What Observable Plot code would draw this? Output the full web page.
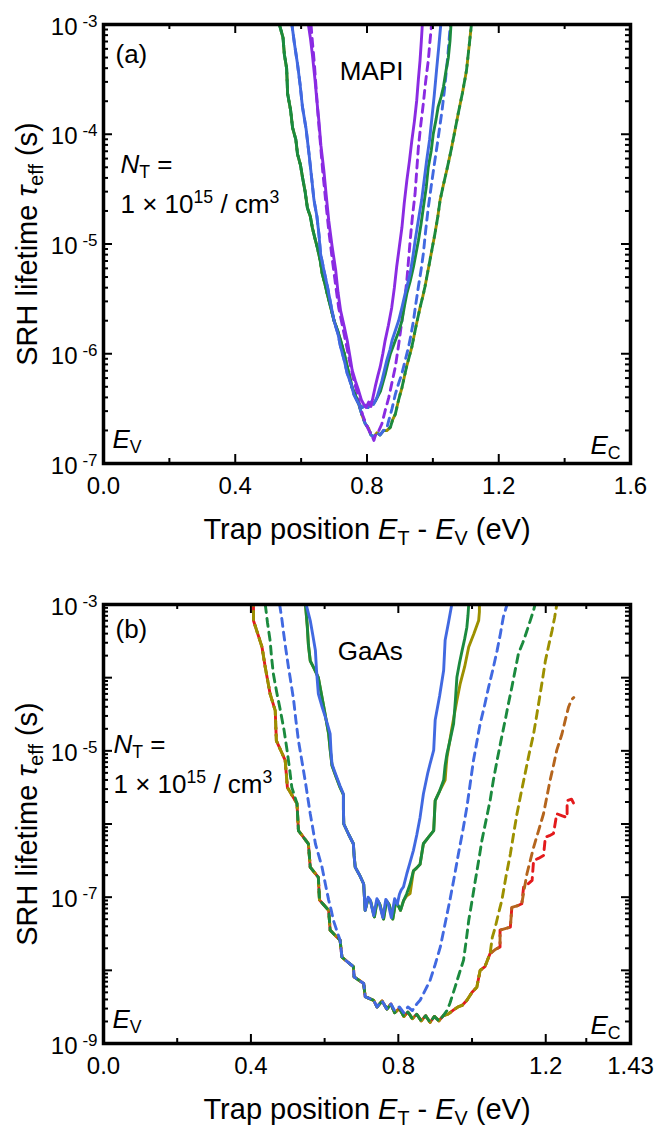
<!DOCTYPE html>
<html><head><meta charset="utf-8">
<script src="https://cdn.jsdelivr.net/npm/d3@7"></script>
<script src="https://cdn.jsdelivr.net/npm/@observablehq/plot@0.6"></script>
<style>
body{margin:0;background:#fff;}
#chart{width:655px;}
svg{display:block;}
</style></head><body><div id="chart"></div>
<script>
// ---------- colours ----------
const PURPLE = "#8a2be2", BLUE = "#4169e1", GREEN = "#1b8a3e", OLIVE = "#9c9000", BROWN = "#b5651d", RED = "#e31a1c";

// ---------- ticks ----------
const mapiXMajor = [0, 0.4, 0.8, 1.2, 1.6];
const mapiXMinor = [0.2, 0.6, 1.0, 1.4];
const mapiXLabels = ["0.0", "0.4", "0.8", "1.2", "1.6"];
const mapiDecades = [-7, -6, -5, -4, -3];
const mapiLabelDecades = [-7, -6, -5, -4, -3];
const gaasXMajor = [0, 0.4, 0.8, 1.2, 1.43];
const gaasXMinor = [0.2, 0.6, 1.0, 1.31];
const gaasXLabels = ["0.0", "0.4", "0.8", "1.2", "1.43"];
const gaasDecades = [-9, -8, -7, -6, -5, -4, -3];
const gaasLabelDecades = [-9, -7, -5, -3];

// ---------- MAPI data: [E_T - E_V (eV), log10 tau (s)] ----------
const mapiLeftShared = [[0.534,-3.00],[0.545,-3.12],[0.549,-3.27],[0.556,-3.40],[0.559,-3.63],[0.568,-3.78],[0.574,-3.94],[0.584,-4.05],[0.589,-4.18],[0.598,-4.28],[0.604,-4.39],[0.612,-4.52],[0.619,-4.67],[0.628,-4.75],[0.634,-4.85],[0.642,-4.95],[0.649,-5.03],[0.658,-5.15],[0.664,-5.27],[0.672,-5.36],[0.679,-5.45],[0.690,-5.58],[0.700,-5.70],[0.712,-5.80],[0.720,-5.88],[0.731,-6.00],[0.740,-6.12],[0.748,-6.22],[0.755,-6.31],[0.765,-6.38],[0.775,-6.46]];
const mapiDashedBottom = [[0.785,-6.56],[0.795,-6.64],[0.805,-6.68],[0.812,-6.74],[0.820,-6.76],[0.830,-6.72],[0.840,-6.74],[0.850,-6.70]];
const mapiGreenDashedRight = [[0.860,-6.70],[0.871,-6.67],[0.878,-6.60],[0.886,-6.55],[0.896,-6.42],[0.906,-6.31],[0.920,-6.12],[0.936,-5.94],[0.948,-5.76],[0.961,-5.58],[0.970,-5.47],[0.976,-5.39],[0.991,-5.15],[1.006,-4.91],[1.015,-4.75],[1.022,-4.60],[1.032,-4.46],[1.042,-4.33],[1.050,-4.22],[1.057,-4.12],[1.068,-3.95],[1.077,-3.81],[1.090,-3.62],[1.102,-3.42],[1.110,-3.20],[1.117,-3.00]];
const mapiGreenSolidRight = [[0.785,-6.49],[0.795,-6.47],[0.803,-6.49],[0.810,-6.45],[0.818,-6.46],[0.826,-6.43],[0.841,-6.34],[0.856,-6.18],[0.864,-6.08],[0.871,-6.00],[0.886,-5.88],[0.896,-5.80],[0.906,-5.70],[0.914,-5.56],[0.921,-5.45],[0.931,-5.34],[0.941,-5.21],[0.956,-4.97],[0.964,-4.82],[0.971,-4.67],[0.980,-4.48],[0.986,-4.30],[0.995,-4.15],[1.001,-4.00],[1.010,-3.86],[1.016,-3.75],[1.025,-3.66],[1.032,-3.57],[1.040,-3.42],[1.047,-3.30],[1.052,-3.15],[1.055,-3.00]];
const mapiBlueLeft = [[0.572,-3.00],[0.580,-3.18],[0.589,-3.36],[0.597,-3.55],[0.604,-3.75],[0.615,-3.95],[0.624,-4.18],[0.632,-4.40],[0.639,-4.60],[0.648,-4.75],[0.654,-4.91],[0.659,-5.09],[0.670,-5.25],[0.680,-5.39],[0.690,-5.55],[0.700,-5.70],[0.712,-5.82],[0.720,-5.94],[0.731,-6.06],[0.740,-6.18],[0.752,-6.28],[0.760,-6.37],[0.775,-6.46]];
const mapiBlueSolidRight = [[0.785,-6.49],[0.795,-6.47],[0.803,-6.49],[0.812,-6.44],[0.820,-6.46],[0.830,-6.40],[0.845,-6.25],[0.860,-6.06],[0.870,-5.96],[0.876,-5.88],[0.896,-5.70],[0.906,-5.58],[0.916,-5.45],[0.931,-5.27],[0.940,-5.10],[0.946,-4.97],[0.956,-4.78],[0.966,-4.60],[0.981,-4.24],[0.990,-4.05],[0.996,-3.88],[1.004,-3.65],[1.011,-3.42],[1.018,-3.20],[1.024,-3.00]];
const mapiBlueDashedRight = [[0.860,-6.68],[0.866,-6.61],[0.876,-6.50],[0.886,-6.37],[0.896,-6.27],[0.906,-6.18],[0.916,-6.06],[0.926,-5.94],[0.934,-5.82],[0.941,-5.70],[0.948,-5.55],[0.956,-5.39],[0.964,-5.24],[0.971,-5.09],[0.978,-4.88],[0.986,-4.67],[0.996,-4.45],[1.006,-4.24],[1.014,-4.08],[1.020,-3.95],[1.028,-3.78],[1.035,-3.60],[1.045,-3.30],[1.053,-3.00]];
const mapiPurpleSolid = [[0.622,-3.00],[0.628,-3.12],[0.634,-3.27],[0.642,-3.50],[0.648,-3.70],[0.654,-3.88],[0.660,-4.10],[0.669,-4.33],[0.676,-4.55],[0.684,-4.79],[0.694,-5.02],[0.705,-5.24],[0.712,-5.44],[0.720,-5.61],[0.730,-5.74],[0.740,-5.88],[0.748,-6.02],[0.755,-6.15],[0.765,-6.25],[0.775,-6.34],[0.783,-6.42],[0.790,-6.46],[0.797,-6.49],[0.805,-6.44],[0.812,-6.48],[0.818,-6.40],[0.825,-6.30],[0.833,-6.20],[0.840,-6.12],[0.848,-6.00],[0.855,-5.88],[0.865,-5.74],[0.875,-5.58],[0.883,-5.40],[0.890,-5.21],[0.898,-5.03],[0.906,-4.85],[0.913,-4.63],[0.921,-4.42],[0.929,-4.24],[0.936,-4.06],[0.944,-3.88],[0.951,-3.69],[0.956,-3.50],[0.961,-3.33],[0.965,-3.15],[0.968,-3.00]];
const mapiPurpleDashed = [[0.630,-3.00],[0.634,-3.15],[0.640,-3.35],[0.646,-3.60],[0.652,-3.85],[0.659,-4.10],[0.666,-4.35],[0.675,-4.62],[0.684,-4.88],[0.695,-5.15],[0.705,-5.38],[0.714,-5.58],[0.725,-5.74],[0.736,-5.90],[0.748,-6.08],[0.758,-6.22],[0.767,-6.32],[0.777,-6.45],[0.787,-6.56],[0.797,-6.64],[0.806,-6.70],[0.814,-6.74],[0.821,-6.79],[0.828,-6.72],[0.836,-6.70],[0.845,-6.64],[0.855,-6.52],[0.866,-6.40],[0.876,-6.26],[0.886,-6.12],[0.896,-5.92],[0.906,-5.70],[0.914,-5.52],[0.921,-5.33],[0.926,-5.15],[0.931,-4.97],[0.938,-4.75],[0.946,-4.54],[0.951,-4.33],[0.956,-4.12],[0.963,-3.92],[0.971,-3.72],[0.978,-3.52],[0.986,-3.33],[0.991,-3.16],[0.996,-3.00]];

// ---------- GaAs data ----------
const gaasRedLeftTop = [[0.407,-3.00],[0.407,-3.22],[0.430,-3.58],[0.439,-3.86],[0.452,-4.22],[0.466,-4.45],[0.469,-4.86],[0.493,-5.13],[0.499,-5.50],[0.525,-5.72]];
const gaasGreenDashLeftTop = [[0.439,-3.00],[0.445,-3.25],[0.452,-3.49],[0.456,-3.72],[0.461,-3.95],[0.470,-4.20],[0.480,-4.45],[0.490,-4.72],[0.498,-4.99],[0.505,-5.25],[0.511,-5.50],[0.525,-5.72]];
const gaasDashLower = [[0.529,-6.09],[0.556,-6.27],[0.561,-6.59],[0.583,-6.73],[0.586,-7.04],[0.611,-7.18],[0.615,-7.45],[0.642,-7.59],[0.647,-7.82],[0.678,-7.95],[0.680,-8.09],[0.706,-8.18],[0.710,-8.36],[0.733,-8.41],[0.742,-8.50]];
const gaasDashBottom = [[0.756,-8.42],[0.769,-8.53],[0.780,-8.46],[0.790,-8.58],[0.803,-8.52],[0.815,-8.63],[0.826,-8.57],[0.838,-8.66],[0.850,-8.60],[0.862,-8.69],[0.874,-8.62],[0.886,-8.71],[0.898,-8.63],[0.910,-8.69],[0.922,-8.62]];
const gaasWarmRight = [[0.935,-8.60],[0.950,-8.54],[0.962,-8.50],[0.973,-8.48],[0.986,-8.41],[1.000,-8.30],[1.013,-8.23],[1.022,-8.00],[1.035,-7.95],[1.049,-7.77]];
const gaasRedTail = [[1.062,-7.72],[1.076,-7.68],[1.076,-7.45],[1.090,-7.43],[1.104,-7.41],[1.108,-7.14],[1.122,-7.12],[1.135,-7.09],[1.140,-6.86],[1.152,-6.82],[1.163,-6.77],[1.167,-6.50],[1.180,-6.47],[1.194,-6.43],[1.199,-6.18],[1.210,-6.16],[1.221,-6.13],[1.230,-5.86],[1.245,-5.89],[1.258,-5.91],[1.258,-5.68],[1.270,-5.66],[1.276,-5.72]];
const gaasBrownTail = [[1.062,-7.72],[1.076,-7.68],[1.076,-7.45],[1.090,-7.43],[1.104,-7.41],[1.108,-7.14],[1.122,-7.12],[1.135,-7.09],[1.142,-6.88],[1.149,-6.68],[1.158,-6.50],[1.167,-6.32],[1.180,-6.10],[1.194,-5.86],[1.203,-5.63],[1.212,-5.40],[1.221,-5.20],[1.230,-4.99],[1.244,-4.77],[1.253,-4.58],[1.262,-4.40],[1.270,-4.30],[1.276,-4.27]];
const gaasOliveTail = [[1.055,-7.55],[1.063,-7.41],[1.072,-7.22],[1.081,-7.04],[1.092,-6.72],[1.104,-6.41],[1.113,-6.13],[1.122,-5.86],[1.133,-5.58],[1.144,-5.31],[1.155,-5.04],[1.167,-4.77],[1.176,-4.50],[1.185,-4.22],[1.192,-4.00],[1.199,-3.77],[1.208,-3.56],[1.217,-3.36],[1.224,-3.18],[1.230,-3.00]];
const gaasGreenDashRight = [[0.932,-8.55],[0.940,-8.45],[0.954,-8.23],[0.965,-8.05],[0.977,-7.86],[0.984,-7.60],[0.991,-7.32],[1.000,-7.05],[1.009,-6.77],[1.018,-6.50],[1.027,-6.22],[1.038,-5.95],[1.049,-5.68],[1.058,-5.40],[1.068,-5.13],[1.079,-4.85],[1.090,-4.58],[1.099,-4.35],[1.108,-4.13],[1.117,-3.90],[1.126,-3.67],[1.138,-3.52],[1.149,-3.36],[1.158,-3.22],[1.167,-3.08],[1.171,-3.00]];
const gaasBlueDashed = [[0.478,-3.00],[0.484,-3.20],[0.489,-3.40],[0.495,-3.62],[0.502,-3.86],[0.509,-4.08],[0.516,-4.31],[0.522,-4.58],[0.529,-4.86],[0.538,-5.13],[0.547,-5.40],[0.554,-5.63],[0.561,-5.86],[0.568,-6.06],[0.575,-6.27],[0.584,-6.43],[0.593,-6.59],[0.602,-6.82],[0.611,-7.04],[0.618,-7.18],[0.624,-7.32],[0.642,-7.59],[0.647,-7.82],[0.678,-7.95],[0.680,-8.09],[0.706,-8.18],[0.710,-8.36],[0.733,-8.41],[0.742,-8.50],[0.756,-8.42],[0.769,-8.53],[0.780,-8.46],[0.790,-8.55],[0.803,-8.50],[0.815,-8.58],[0.826,-8.50],[0.838,-8.55],[0.850,-8.46],[0.859,-8.41],[0.872,-8.28],[0.886,-8.14],[0.900,-7.92],[0.914,-7.68],[0.927,-7.36],[0.940,-7.04],[0.952,-6.72],[0.963,-6.41],[0.975,-6.09],[0.986,-5.77],[0.995,-5.45],[1.004,-5.13],[1.013,-4.88],[1.022,-4.63],[1.034,-4.38],[1.045,-4.13],[1.057,-3.88],[1.068,-3.63],[1.077,-3.40],[1.085,-3.17],[1.095,-3.00]];
const gaasBlueSolid = [[0.550,-3.00],[0.556,-3.12],[0.561,-3.22],[0.568,-3.42],[0.575,-3.63],[0.578,-3.90],[0.583,-4.22],[0.592,-4.38],[0.602,-4.54],[0.609,-4.66],[0.615,-4.77],[0.617,-4.98],[0.620,-5.18],[0.627,-5.28],[0.633,-5.36],[0.642,-5.48],[0.651,-5.59],[0.651,-5.80],[0.652,-6.00],[0.665,-6.14],[0.678,-6.27],[0.680,-6.43],[0.683,-6.59],[0.695,-6.70],[0.706,-6.82],[0.708,-7.00],[0.710,-7.18],[0.718,-7.00],[0.724,-7.04],[0.733,-7.25],[0.742,-7.02],[0.748,-7.08],[0.758,-7.28],[0.766,-7.03],[0.772,-7.08],[0.781,-7.28],[0.790,-7.02],[0.797,-7.10],[0.803,-6.96],[0.808,-6.90],[0.814,-6.86],[0.823,-6.68],[0.832,-6.52],[0.841,-6.36],[0.850,-6.15],[0.859,-5.91],[0.868,-5.59],[0.880,-5.30],[0.886,-5.18],[0.896,-4.99],[0.900,-4.58],[0.912,-4.25],[0.923,-3.90],[0.927,-3.49],[0.936,-3.25],[0.945,-3.00]];
const gaasGreenSolidLeft = [[0.548,-3.00],[0.553,-3.30],[0.556,-3.55],[0.561,-3.77],[0.572,-3.88],[0.583,-4.00],[0.597,-4.38],[0.611,-4.77],[0.615,-4.98],[0.620,-5.20],[0.627,-5.30],[0.633,-5.38],[0.642,-5.50],[0.651,-5.60],[0.651,-5.80],[0.652,-6.00],[0.665,-6.14],[0.678,-6.27],[0.680,-6.43],[0.683,-6.59],[0.695,-6.70],[0.706,-6.82],[0.708,-7.00],[0.710,-7.18],[0.718,-7.02],[0.725,-7.06],[0.735,-7.27],[0.743,-7.04],[0.750,-7.10],[0.760,-7.30],[0.768,-7.05],[0.775,-7.10],[0.785,-7.30],[0.793,-7.06],[0.800,-7.12]];
const gaasGreenSolidRight = [[0.806,-7.18],[0.814,-7.05],[0.823,-6.95],[0.832,-6.82],[0.841,-6.64],[0.850,-6.60],[0.859,-6.55],[0.868,-6.27],[0.882,-6.18],[0.896,-6.09],[0.900,-5.68],[0.912,-5.55],[0.923,-5.40],[0.927,-5.20],[0.932,-5.04],[0.941,-4.84],[0.950,-4.63],[0.955,-4.30],[0.959,-3.99],[0.966,-3.80],[0.973,-3.63],[0.980,-3.47],[0.986,-3.31],[0.989,-3.15],[0.991,-3.00]];
const gaasOliveSolidRight = [[0.806,-7.18],[0.814,-7.05],[0.823,-6.98],[0.832,-6.95],[0.841,-6.64],[0.850,-6.60],[0.859,-6.55],[0.868,-6.27],[0.882,-6.18],[0.896,-6.09],[0.900,-5.68],[0.912,-5.55],[0.927,-5.40],[0.930,-5.20],[0.932,-5.09],[0.945,-4.70],[0.959,-4.31],[0.968,-4.08],[0.980,-3.85],[0.991,-3.58],[1.005,-3.40],[1.018,-3.22],[1.020,-3.10],[1.020,-3.00]];

// ---------- series assembly ----------
const mapiSeries = [
  {data: [...mapiLeftShared, ...mapiDashedBottom, ...mapiGreenDashedRight], color: OLIVE, dash: true, offset: 7},
  {data: [...mapiLeftShared, ...mapiDashedBottom, ...mapiGreenDashedRight], color: GREEN, dash: true, offset: 0},
  {data: [...mapiBlueLeft, ...mapiDashedBottom, ...mapiBlueDashedRight], color: BLUE, dash: true, offset: 3},
  {data: mapiPurpleDashed, color: PURPLE, dash: true, offset: 0},
  {data: [...mapiLeftShared, ...mapiGreenSolidRight], color: GREEN},
  {data: [...mapiBlueLeft, ...mapiBlueSolidRight], color: BLUE},
  {data: mapiPurpleSolid, color: PURPLE}
];
const gaasSeries = [
  {data: [...gaasRedLeftTop, ...gaasDashLower, ...gaasDashBottom, ...gaasWarmRight, ...gaasRedTail], color: RED, dash: true, offset: 0},
  {data: [...gaasRedLeftTop, ...gaasDashLower, ...gaasDashBottom, ...gaasWarmRight, ...gaasBrownTail], color: BROWN, dash: true, offset: 7},
  {data: [...gaasRedLeftTop, ...gaasDashLower, ...gaasDashBottom, ...gaasWarmRight, ...gaasOliveTail], color: OLIVE, dash: true, offset: 7},
  {data: [...gaasGreenDashLeftTop, ...gaasDashLower, ...gaasDashBottom, ...gaasGreenDashRight], color: GREEN, dash: true, offset: 0},
  {data: gaasBlueDashed, color: BLUE, dash: true, offset: 0},
  {data: [...gaasGreenSolidLeft, ...gaasOliveSolidRight], color: OLIVE},
  {data: [...gaasGreenSolidLeft, ...gaasGreenSolidRight], color: GREEN},
  {data: gaasBlueSolid, color: BLUE}
];

const FONT = "'Liberation Sans', Arial, Helvetica, sans-serif";

function minorTicks(decades) {
  const out = [];
  for (const d of decades.slice(0, -1)) for (let k = 2; k <= 9; k++) out.push(k * Math.pow(10, d));
  return out;
}

function makePanel(cfg) {
  const W = 655;
  const innerW = W - cfg.ml - cfg.mr, innerH = cfg.h - cfg.mt - cfg.mb;
  const yMajor = cfg.decades.map(d => Math.pow(10, d));
  const yLab = cfg.labelDecades.map(d => Math.pow(10, d));
  const yMinor = minorTicks(cfg.decades);
  const marks = [];
  for (const s of cfg.series) {
    const o = {x: d => d[0], y: d => Math.pow(10, d[1]), stroke: s.color, strokeWidth: 2.9, strokeLinejoin: "round", clip: true};
    if (s.dash) { o.strokeDasharray = "8,6"; o.strokeDashoffset = s.offset; }
    marks.push(Plot.line(s.data, o));
  }
  const tk = {stroke: "black", strokeWidth: 2};
  marks.push(
    Plot.tickX(cfg.xMajor, {...tk, x: d => d, insetTop: innerH - 9}),
    Plot.tickX(cfg.xMinor, {...tk, x: d => d, insetTop: innerH - 5}),
    Plot.tickX(cfg.xMajor, {...tk, x: d => d, insetBottom: innerH - 9}),
    Plot.tickX(cfg.xMinor, {...tk, x: d => d, insetBottom: innerH - 5}),
    Plot.tickY(yMajor, {...tk, y: d => d, insetRight: innerW - 9}),
    Plot.tickY(yMinor, {...tk, y: d => d, insetRight: innerW - 5}),
    Plot.tickY(yMajor, {...tk, y: d => d, insetLeft: innerW - 9}),
    Plot.tickY(yMinor, {...tk, y: d => d, insetLeft: innerW - 5}),
    Plot.frame({stroke: "black", strokeWidth: 3.5}),
    // x tick labels
    Plot.text(cfg.xMajor, {x: d => d, frameAnchor: "bottom", dy: 30, text: (d, i) => cfg.xLabels[i], lineAnchor: "bottom", textAnchor: "middle", fontSize: 24}),
    // y tick labels
    Plot.text(yLab, {y: d => d, frameAnchor: "left", dx: -26, dy: 10, text: () => "10", lineAnchor: "bottom", textAnchor: "end", fontSize: 24}),
    Plot.text(yLab, {y: d => d, frameAnchor: "left", dx: -6, dy: 2, text: d => String(Math.round(Math.log10(d))), lineAnchor: "bottom", textAnchor: "end", fontSize: 17}),
    // axis titles
    Plot.text(["Trap position *E*_{T} - *E*_{V} (eV)"], {frameAnchor: "bottom", dy: 75, text: d => d, lineAnchor: "bottom", textAnchor: "middle", fontSize: 29}),
    Plot.text(["SRH lifetime *τ*_{eff} (s)"], {frameAnchor: "left", dx: -67, rotate: -90, text: d => d, lineAnchor: "bottom", textAnchor: "middle", fontSize: 29}),
    // annotations
    Plot.text([cfg.tag], {frameAnchor: "top-left", dx: 12, dy: cfg.tagDy, text: d => d, lineAnchor: "bottom", textAnchor: "start", fontSize: 26}),
    Plot.text([cfg.name], {x: () => cfg.nameX, frameAnchor: "top", dy: 55, text: d => d, lineAnchor: "bottom", textAnchor: "middle", fontSize: 26}),
    Plot.text(["*N*_{T} ="], {frameAnchor: "top-left", dx: cfg.ntDx, dy: 148, text: d => d, lineAnchor: "bottom", textAnchor: "start", fontSize: 26}),
    Plot.text(["1 × 10^{15} / cm^{3}"], {frameAnchor: "top-left", dx: cfg.ntDx, dy: cfg.concDy, text: d => d, lineAnchor: "bottom", textAnchor: "start", fontSize: 26}),
    Plot.text(["*E*_{V}"], {frameAnchor: "bottom-left", dx: 9, dy: -16, text: d => d, lineAnchor: "bottom", textAnchor: "start", fontSize: 26}),
    Plot.text(["*E*_{C}"], {frameAnchor: "bottom-right", dx: -10, dy: -10, text: d => d, lineAnchor: "bottom", textAnchor: "end", fontSize: 26})
  );
  return Plot.plot({
    width: W, height: cfg.h,
    marginLeft: cfg.ml, marginRight: cfg.mr, marginTop: cfg.mt, marginBottom: cfg.mb,
    x: {domain: cfg.xDomain, axis: null},
    y: {type: "log", domain: cfg.yDomain, axis: null},
    style: {fontFamily: FONT, background: "white", color: "black", overflow: "visible"},
    marks
  });
}

function richify(root) {
  root.querySelectorAll("text").forEach(t => {
    const s = t.textContent;
    if (!/[*_^]/.test(s)) return;
    const fs = parseFloat(getComputedStyle(t).fontSize) || 24;
    while (t.firstChild) t.removeChild(t.firstChild);
    const re = /\*([^*]+)\*|_\{([^}]*)\}|\^\{([^}]*)\}|([^*_^]+)/g;
    let m, cur = 0;
    while ((m = re.exec(s))) {
      const ts = document.createElementNS("http://www.w3.org/2000/svg", "tspan");
      let target = 0, small = false, txt;
      if (m[1] != null) { txt = m[1]; ts.setAttribute("font-style", "italic"); }
      else if (m[2] != null) { txt = m[2]; target = 0.22 * fs; small = true; }
      else if (m[3] != null) { txt = m[3]; target = -0.38 * fs; small = true; }
      else txt = m[4];
      if (small) ts.setAttribute("font-size", (0.68 * fs).toFixed(1));
      if (Math.abs(target - cur) > 0.01) { ts.setAttribute("dy", (target - cur).toFixed(1)); cur = target; }
      ts.textContent = txt;
      t.appendChild(ts);
    }
  });
}

const chart = document.getElementById("chart");
chart.append(makePanel({
  h: 565, ml: 103, mr: 25, mt: 24, mb: 102,
  xDomain: [0, 1.6], yDomain: [1e-7, 1e-3],
  xMajor: mapiXMajor, xMinor: mapiXMinor, xLabels: mapiXLabels,
  decades: mapiDecades, labelDecades: mapiLabelDecades,
  series: mapiSeries, tag: "(a)", tagDy: 38, name: "MAPI", nameX: 0.814,
  ntDx: 17, concDy: 188
}));
chart.append(makePanel({
  h: 562, ml: 103, mr: 25, mt: 39, mb: 84,
  xDomain: [0, 1.43], yDomain: [1e-9, 1e-3],
  xMajor: gaasXMajor, xMinor: gaasXMinor, xLabels: gaasXLabels,
  decades: gaasDecades, labelDecades: gaasLabelDecades,
  series: gaasSeries, tag: "(b)", tagDy: 33, name: "GaAs", nameX: 0.724,
  ntDx: 10, concDy: 188
}));
richify(chart);
</script>
</body></html>
